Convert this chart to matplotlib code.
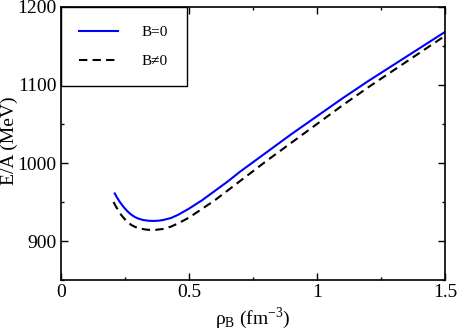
import matplotlib
matplotlib.use("Agg")
import matplotlib.pyplot as plt
from matplotlib.ticker import MultipleLocator

plt.rcParams['font.family'] = ['Liberation Serif', 'DejaVu Serif']
plt.rcParams['mathtext.fontset'] = 'custom'
plt.rcParams['mathtext.rm'] = 'Liberation Serif'

# data
rho_b0 = [0.21, 0.22, 0.23, 0.24, 0.25, 0.26, 0.27, 0.28, 0.29, 0.30, 0.32, 0.34, 0.36,
          0.38, 0.40, 0.43, 0.46, 0.50, 0.55, 0.60, 0.65, 0.70, 0.75, 0.80, 0.85, 0.90,
          0.95, 1.00, 1.10, 1.20, 1.30, 1.40, 1.50]
ea_b0 = [961, 955, 950, 945.5, 941.5, 938, 935, 932.5, 930.5, 929, 927, 926, 925.7,
         926, 927, 929.5, 934, 941.5, 952, 964, 976, 989, 1001, 1013, 1025, 1037,
         1048.5, 1060, 1083, 1105, 1126, 1147, 1168]

rho_b1 = [0.205, 0.215, 0.225, 0.235, 0.245, 0.255, 0.265, 0.275, 0.29, 0.31, 0.33, 0.35,
          0.37, 0.40, 0.43, 0.46, 0.50, 0.55, 0.60, 0.65, 0.70, 0.75, 0.80, 0.85, 0.90,
          0.95, 1.00, 1.10, 1.20, 1.30, 1.40, 1.50]
ea_b1 = [950, 944, 938.5, 933.5, 929.5, 926, 923, 920.5, 918, 916, 914.7, 914.2,
         914.3, 915.5, 918.5, 923, 930, 941, 952, 964.5, 977, 989.5, 1002, 1014, 1026,
         1038, 1050, 1074, 1097, 1119, 1141, 1163]

fig = plt.figure(figsize=(4.57, 3.30), dpi=100)
ax = fig.add_axes([0.1335, 0.1515, 0.8402, 0.8273])

ax.plot(rho_b0, ea_b0, color='#0000ff', lw=1.5, label='B=0')
ax.plot(rho_b1, ea_b1, color='black', lw=1.5, dashes=(4, 2.5), label='B\u22600')

ax.set_xlim(0, 1.5)
ax.set_ylim(850, 1200)
ax.xaxis.set_minor_locator(MultipleLocator(0.25))
ax.yaxis.set_minor_locator(MultipleLocator(50))
ax.set_xticks([0, 0.5, 1, 1.5])
ax.set_xticklabels(['0', '0.5', '1', '1.5'])
ax.set_yticks([900, 1000, 1100, 1200])
ax.tick_params(which='both', direction='in', top=True, right=True, labelsize=14)
ax.tick_params(which='major', length=5, width=1, pad=3)
ax.tick_params(which='minor', length=2.5, width=1)
for s in ax.spines.values():
    s.set_linewidth(1.2)

ax.set_xlabel('$\\mathrm{\u03c1_B}$ (fm$^{\\mathrm{-3}}$)', fontsize=14, labelpad=3)
ax.set_ylabel('E/A (MeV)', fontsize=14, va='baseline')
ax.yaxis.set_label_coords(-0.122, 0.51)

leg = ax.legend(loc='upper left', borderaxespad=0, fontsize=11, frameon=True,
                fancybox=False, framealpha=1, edgecolor='black',
                handlelength=2.5, handletextpad=1.6, borderpad=1.2, labelspacing=1.0)
leg.get_frame().set_linewidth(1.0)

fig.savefig('out.png', dpi=100)
